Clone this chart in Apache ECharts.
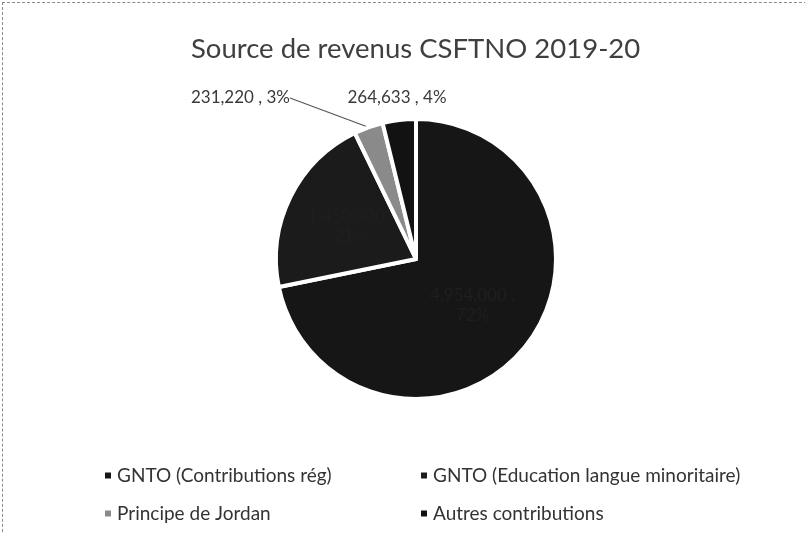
<!DOCTYPE html>
<html>
<head>
<meta charset="utf-8">
<script src="https://cdn.jsdelivr.net/npm/echarts@6/dist/echarts.min.js"></script>
<style>
  html, body { margin: 0; padding: 0; background: #fff; }
  #frame { position: absolute; left: 2px; top: 2px; width: 830px; height: 560px; border: 1px dashed #8a8a8a; box-sizing: border-box; }
  #main { position: absolute; left: 0; top: 0; width: 805px; height: 533px; }
</style>
</head>
<body>
<div id="frame"></div>
<div id="main"></div>
<script>
const titleText = 'Source de revenus CSFTNO 2019-20';
const categories = [
  'GNTO (Contributions rég)',
  'GNTO (Education langue minoritaire)',
  'Principe de Jordan',
  'Autres contributions'
];
const values = [4954000, 1450000, 231220, 264633];
const sliceColors = ['#161616', '#1b1b1b', '#8a8a8a', '#121212'];

const chart = echarts.init(document.getElementById('main'), null, { renderer: 'canvas' });

function fmtOne(p) {
  return p.value.toLocaleString('en-US') + ' , ' + Math.round(p.percent) + '%';
}
function fmtTwo(p) {
  return p.value.toLocaleString('en-US') + ' ,\n' + Math.round(p.percent) + '%';
}

const data = categories.map((name, i) => {
  const item = { name: name, value: values[i], itemStyle: { color: sliceColors[i] } };
  if (i < 2) {
    item.label = { position: 'inside', color: '#1f1f1f', formatter: fmtTwo, lineHeight: 20 };
  }
  if (i === 3) {
    item.labelLine = { show: false };
  }
  return item;
});

const fontFam = 'Lato, "Open Sans", sans-serif';

chart.setOption({
  animation: false,
  backgroundColor: 'transparent',
  title: {
    text: titleText,
    left: 186,
    top: 30,
    textStyle: { fontFamily: fontFam, fontSize: 27.5, fontWeight: 'normal', color: '#3f3f3f' }
  },
  legend: [
    {
      orient: 'vertical',
      left: 98,
      top: 461,
      itemGap: 19,
      itemWidth: 8,
      itemHeight: 8,
      icon: 'rect',
      data: [categories[0], categories[2]],
      textStyle: { fontFamily: fontFam, fontSize: 19, color: '#333' }
    },
    {
      orient: 'vertical',
      left: 414,
      top: 461,
      itemGap: 19,
      itemWidth: 8,
      itemHeight: 8,
      icon: 'rect',
      data: [categories[1], categories[3]],
      textStyle: { fontFamily: fontFam, fontSize: 19, color: '#333' }
    }
  ],
  series: [{
    type: 'pie',
    center: [416, 259],
    radius: [0, 140],
    startAngle: 90,
    clockwise: true,
    data: data,
    itemStyle: { borderColor: '#ffffff', borderWidth: 4 },
    label: {
      show: true,
      position: 'outside',
      fontFamily: fontFam,
      fontSize: 17,
      color: '#3a3a3a',
      formatter: fmtOne
    },
    labelLine: { show: true, length: 8, length2: 0, lineStyle: { color: '#555', width: 1.2 } },
    labelLayout: function (p) {
      if (p.dataIndex === 2) {
        return { x: 290, y: 98, align: 'right', verticalAlign: 'middle' };
      }
      if (p.dataIndex === 3) {
        return { x: 397, y: 98, align: 'center', verticalAlign: 'middle' };
      }
    },
    emphasis: { disabled: true }
  }]
});
</script>
</body>
</html>
